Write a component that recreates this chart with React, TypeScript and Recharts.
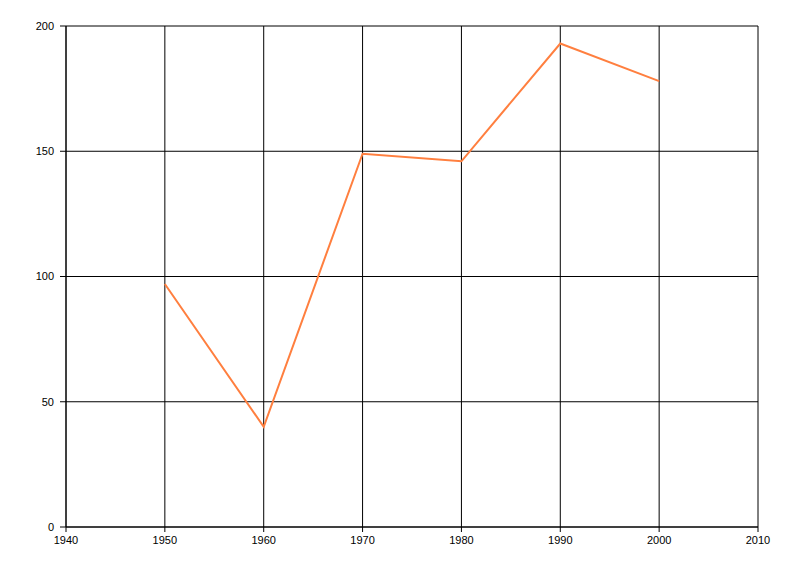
import { LineChart, Line, XAxis, YAxis, CartesianGrid } from "recharts";

// years along the x axis and the single series
const years = [1950, 1960, 1970, 1980, 1990, 2000];
const values = [97, 40, 149, 146, 193, 178];
const xTicks = [1940, 1950, 1960, 1970, 1980, 1990, 2000, 2010];
const yTicks = [0, 50, 100, 150, 200];

const data = years.map((year, i) => ({ year, value: values[i] }));

const tickStyle = { fill: "#000", fontSize: 11, fontFamily: "Liberation Sans, Arial, sans-serif" };

export default function App() {
  return (
    <div style={{ position: "absolute", left: 0, top: 0, background: "#fff" }}>
      <LineChart
        width={800}
        height={576}
        data={data}
        margin={{ top: 26, right: 42, left: 0, bottom: 0 }}
      >
        <CartesianGrid stroke="#000" strokeWidth={1} />
        <XAxis
          dataKey="year"
          type="number"
          domain={[1940, 2010]}
          ticks={xTicks}
          height={49}
          stroke="#000"
          tickSize={5}
          tickMargin={4}
          tick={tickStyle}
          interval={0}
        />
        <YAxis
          type="number"
          domain={[0, 200]}
          ticks={yTicks}
          width={66}
          stroke="#000"
          tickSize={6}
          tickMargin={6}
          tick={tickStyle}
          interval={0}
        />
        <Line
          dataKey="value"
          stroke="#FF7F3F"
          strokeWidth={2}
          dot={false}
          activeDot={false}
          isAnimationActive={false}
        />
      </LineChart>
    </div>
  );
}
